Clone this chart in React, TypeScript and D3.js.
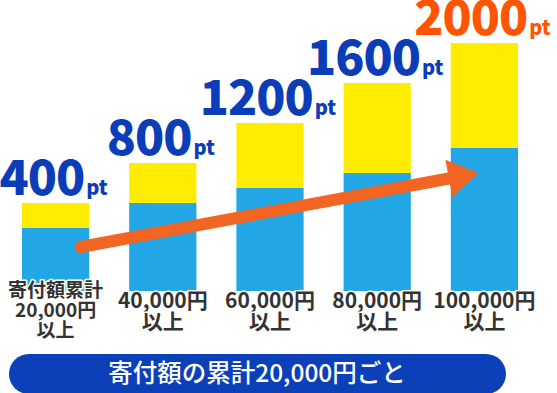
import React from "react";
import * as d3 from "d3";

// points per step, and bar segment heights (arbitrary units)
const points = [400, 800, 1200, 1600, 2000];
const baseValues = [630, 880, 1030, 1180, 1430];
const bonusValues = [250, 400, 650, 900, 1050];
const categoryLabels = [
  ["寄付額累計", "20,000円", "以上"],
  ["40,000円", "以上"],
  ["60,000円", "以上"],
  ["80,000円", "以上"],
  ["100,000円", "以上"],
];
const footerText = "寄付額の累計20,000円ごと";

const W = 557;
const H = 393;
const FONT = "'Noto Sans CJK JP', 'Noto Sans', sans-serif";

export default function App() {
  const ids = points.map((_, i) => String(i));
  const x = d3.scaleBand().domain(ids).range([22, 518]).paddingInner(0.373).paddingOuter(0);
  const y = d3.scaleLinear().domain([0, 2480]).range([291, 43]);
  const bw = x.bandwidth();

  const stacked = points.map((p, i) => ({
    id: ids[i],
    p,
    base: baseValues[i],
    top: baseValues[i] + bonusValues[i],
  }));

  // arrow from first bar to last bar
  const x0 = (x("0") as number) + bw / 2 + 25;
  const y0 = y(440);
  const x1 = (x("4") as number) + bw / 2 - 6;
  const y1 = y(1180);
  const len = Math.hypot(x1 - x0, y1 - y0);
  const ux = (x1 - x0) / len;
  const uy = (y1 - y0) / len;
  const headLen = 30;
  const headHalf = 19;
  const bx = x1 - ux * headLen;
  const by = y1 - uy * headLen;
  const head = [
    [x1, y1],
    [bx - uy * headHalf, by + ux * headHalf],
    [bx + uy * headHalf, by - ux * headHalf],
  ];

  return (
    <svg
      width={W}
      height={H}
      style={{ position: "absolute", left: 0, top: 0, fontFamily: FONT }}
    >
      <rect width={W} height={H} fill="#fff" />
      {stacked.map((d) => (
        <g key={d.id}>
          <rect x={x(d.id)} y={y(d.base)} width={bw} height={y(0) - y(d.base)} fill="#22a6e6" />
          <rect x={x(d.id)} y={y(d.top)} width={bw} height={y(d.base) - y(d.top)} fill="#ffed00" />
        </g>
      ))}

      <line x1={x0} y1={y0} x2={bx + ux * 4} y2={by + uy * 4} stroke="#f26522" strokeWidth={12} strokeLinecap="round" />
      <polygon points={head.map((p) => p.join(",")).join(" ")} fill="#f26522" />

      {stacked.map((d, i) => (
        <text
          key={"v" + d.id}
          x={(x(d.id) as number) + bw / 2 - 2}
          y={y(d.top) - 8}
          textAnchor="middle"
          fill={i === points.length - 1 ? "#ff5500" : "#0b3db8"}
          fontWeight={900}
          stroke="#fff"
          strokeWidth={2}
          paintOrder="stroke"
        >
          <tspan fontSize={48} letterSpacing={-1}>{d.p}</tspan>
          <tspan fontSize={20} dx={2}>pt</tspan>
        </text>
      ))}

      {categoryLabels.map((lines, i) => {
        const first = lines.length === 3;
        const start = first ? 297 : 308;
        const step = first ? 20 : 21;
        return (
          <text
            key={"c" + i}
            textAnchor="middle"
            fontSize={first ? 19 : 21}
            fontWeight={700}
            fill="#333"
            stroke="#fff"
            strokeWidth={3}
            paintOrder="stroke"
            strokeLinejoin="round"
          >
            {lines.map((l, j) => (
              <tspan key={j} x={(x(ids[i]) as number) + bw / 2} y={start + j * step}>
                {l}
              </tspan>
            ))}
          </text>
        );
      })}

      <rect x={9} y={354} width={497} height={40} rx={20} fill="#0c40b8" />
      <text x={257} y={382} textAnchor="middle" fontSize={24.5} fontWeight={500} fill="#fff">
        {footerText}
      </text>
    </svg>
  );
}
